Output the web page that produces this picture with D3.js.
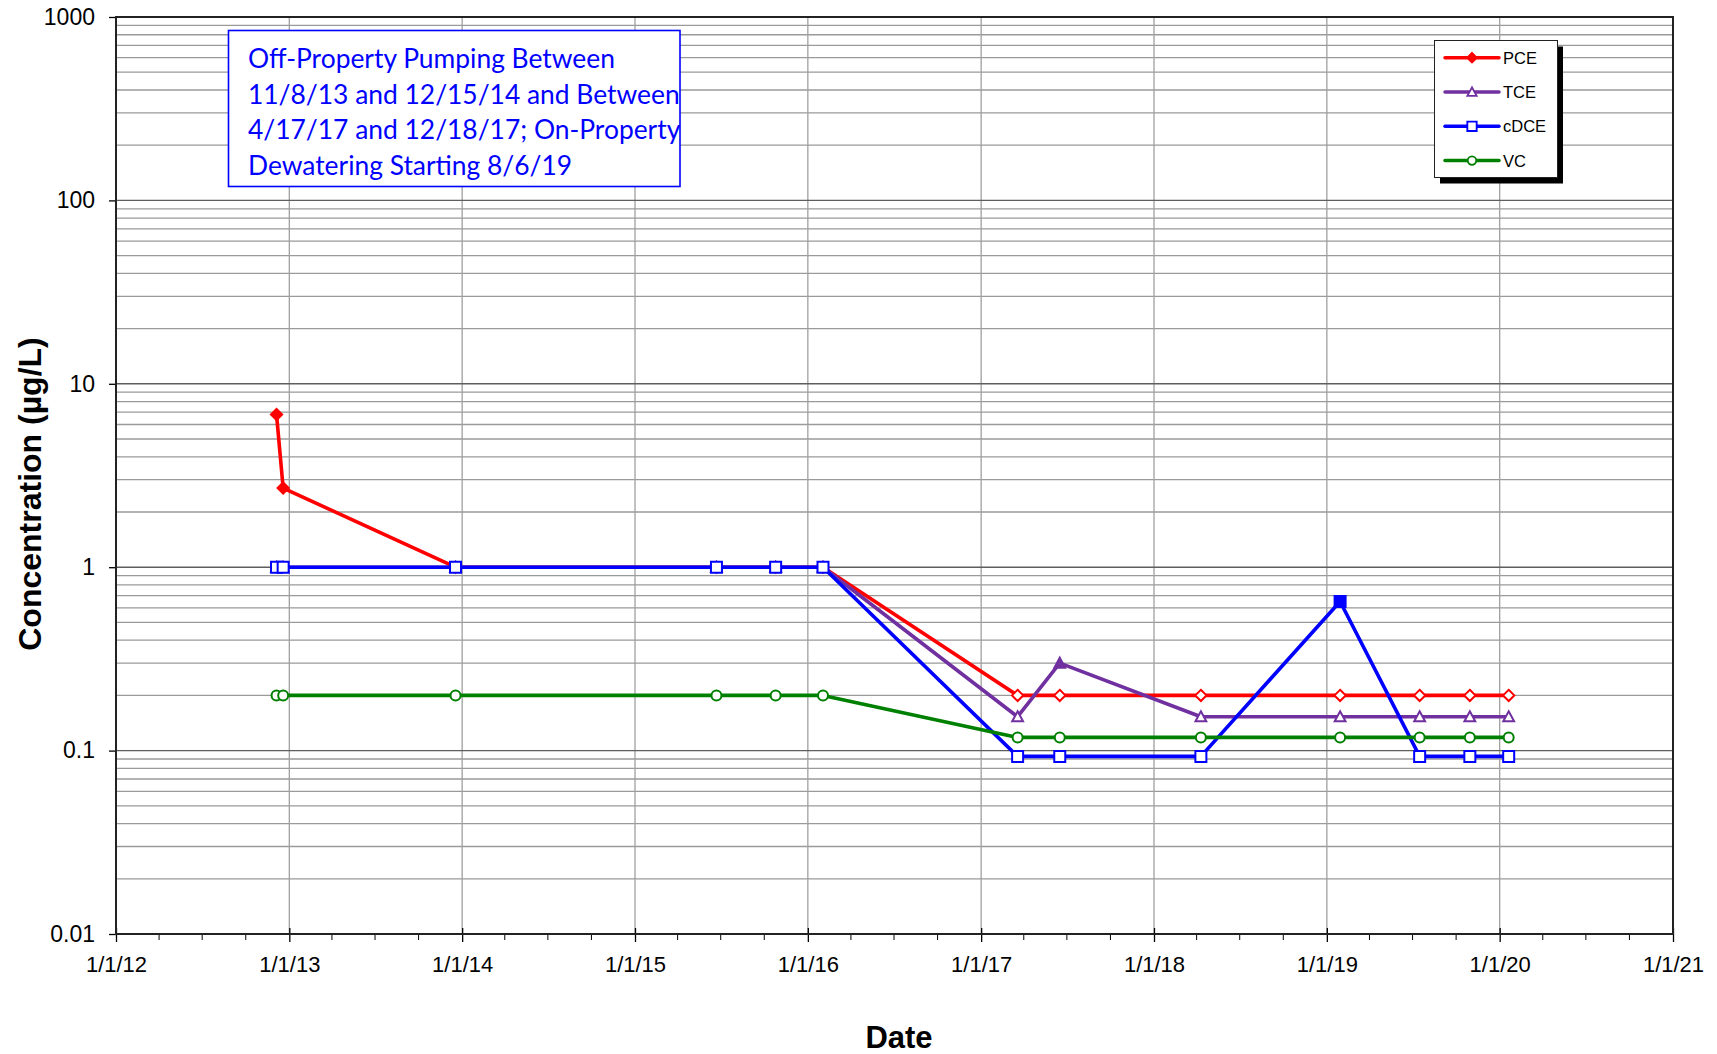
<!DOCTYPE html>
<html>
<head>
<meta charset="utf-8">
<script src="https://cdn.jsdelivr.net/npm/d3@7"></script>
<style>
  html, body { margin: 0; padding: 0; background: #fff; }
  svg { display: block; }
</style>
</head>
<body>
<svg id="chart" width="1717" height="1054"></svg>
<script>
// ---- Data ----
const sampleDates = ["2012-12-05","2012-12-19","2013-12-18","2015-06-22","2015-10-25","2016-02-02",
                     "2017-03-19","2017-06-16","2018-04-10","2019-01-29","2019-07-16","2019-10-30","2020-01-20"];
const pceValues  = [6.8, 2.7, 1, 1, 1, 1, 0.2, 0.2, 0.2, 0.2, 0.2, 0.2, 0.2];
const tceValues  = [1, 1, 1, 1, 1, 1, 0.153, 0.3, 0.153, 0.153, 0.153, 0.153, 0.153];
const cdceValues = [1, 1, 1, 1, 1, 1, 0.093, 0.093, 0.093, 0.65, 0.093, 0.093, 0.093];
const vcValues   = [0.2, 0.2, 0.2, 0.2, 0.2, 0.2, 0.118, 0.118, 0.118, 0.118, 0.118, 0.118, 0.118];
// detected (filled marker) flags
const pceDetected  = [1, 1, 0, 0, 0, 0, 0, 0, 0, 0, 0, 0, 0];
const tceDetected  = [0, 0, 0, 0, 0, 0, 0, 1, 0, 0, 0, 0, 0];
const cdceDetected = [0, 0, 0, 0, 0, 0, 0, 0, 0, 1, 0, 0, 0];
const vcDetected   = [0, 0, 0, 0, 0, 0, 0, 0, 0, 0, 0, 0, 0];

const seriesNames = ["PCE", "TCE", "cDCE", "VC"];
const seriesColors = ["#ff0000", "#7030a0", "#0000ff", "#008000"];
const seriesMarkers = ["diamond", "triangle", "square", "circle"];

const yTickValues = [0.01, 0.1, 1, 10, 100, 1000];
const yTickLabels = ["0.01", "0.1", "1", "10", "100", "1000"];
const xTickYears = [2012, 2013, 2014, 2015, 2016, 2017, 2018, 2019, 2020, 2021];
const xTickLabels = ["1/1/12","1/1/13","1/1/14","1/1/15","1/1/16","1/1/17","1/1/18","1/1/19","1/1/20","1/1/21"];

const noteLines = ["Off-Property Pumping Between",
                   "11/8/13 and 12/15/14 and Between",
                   "4/17/17 and 12/18/17; On-Property",
                   "Dewatering Starting 8/6/19"];

// ---- Layout ----
const L = 116, R = 1673, T = 17, B = 934;
const svg = d3.select("#chart");
const parse = d3.utcParse("%Y-%m-%d");

const x = d3.scaleUtc()
  .domain([Date.UTC(2012, 0, 1), Date.UTC(2021, 0, 1)])
  .range([L, R]);
const y = d3.scaleLog().domain([0.01, 1000]).range([B, T]);

// ---- Grid ----
const grid = svg.append("g");
const minorY = [];
for (let e = -2; e < 3; e++) {
  for (let m = 2; m <= 9; m++) minorY.push(m * Math.pow(10, e));
}
grid.selectAll("line.minorY").data(minorY).join("line")
  .attr("x1", L).attr("x2", R)
  .attr("y1", d => y(d)).attr("y2", d => y(d))
  .attr("stroke", "#9a9a9a").attr("stroke-width", 1.3);
grid.selectAll("line.vx").data(xTickYears.slice(1, -1)).join("line")
  .attr("x1", d => x(Date.UTC(d, 0, 1))).attr("x2", d => x(Date.UTC(d, 0, 1)))
  .attr("y1", T).attr("y2", B)
  .attr("stroke", "#a0a0a0").attr("stroke-width", 1.3);
grid.selectAll("line.majY").data(yTickValues.slice(1, -1)).join("line")
  .attr("x1", L).attr("x2", R)
  .attr("y1", d => y(d)).attr("y2", d => y(d))
  .attr("stroke", "#5e5e5e").attr("stroke-width", 1.4);

// ---- Axes ----
const yAxis = d3.axisLeft(y).tickValues(yTickValues)
  .tickFormat((d, i) => yTickLabels[i]).tickSize(7).tickPadding(14);
const gy = svg.append("g").attr("transform", `translate(${L},0)`).call(yAxis);
gy.select(".domain").remove();
gy.selectAll(".tick line").attr("stroke", "#000").attr("stroke-width", 1.3);
gy.selectAll(".tick text").attr("font-family", "Liberation Sans, Arial, sans-serif")
  .attr("font-size", 23).attr("fill", "#000");

const minorX = [];
for (let yr = 2012; yr < 2021; yr++) for (const mo of [3, 6, 9]) minorX.push(Date.UTC(yr, mo, 1));
svg.append("g").selectAll("line").data(minorX).join("line")
  .attr("x1", d => x(d)).attr("x2", d => x(d))
  .attr("y1", B).attr("y2", B + 6)
  .attr("stroke", "#000").attr("stroke-width", 1);

const xAxis = d3.axisBottom(x).tickValues(xTickYears.map(yr => Date.UTC(yr, 0, 1)))
  .tickFormat((d, i) => xTickLabels[i]).tickSizeInner(8).tickSizeOuter(0).tickPadding(14);
const gx = svg.append("g").attr("transform", `translate(0,${B})`).call(xAxis);
gx.select(".domain").remove();
gx.selectAll(".tick line").attr("stroke", "#000").attr("stroke-width", 1.3).attr("y1", -6);
gx.selectAll(".tick text").attr("font-family", "Liberation Sans, Arial, sans-serif")
  .attr("font-size", 22).attr("fill", "#000");

svg.append("rect").attr("x", L).attr("y", T).attr("width", R - L).attr("height", B - T)
  .attr("fill", "none").attr("stroke", "#222").attr("stroke-width", 2);

// ---- Axis titles ----
svg.append("text").attr("x", 899).attr("y", 1048).attr("text-anchor", "middle")
  .attr("font-family", "Liberation Sans, Arial, sans-serif").attr("font-weight", "bold")
  .attr("font-size", 31).text("Date");
svg.append("text").attr("transform", "translate(41,494) rotate(-90)").attr("text-anchor", "middle")
  .attr("font-family", "Liberation Sans, Arial, sans-serif").attr("font-weight", "bold")
  .attr("font-size", 32).text("Concentration (µg/L)");

// ---- Marker shapes ----
const shapes = {
  diamond: { draw(c) { const h = 5.6; c.moveTo(0, -h); c.lineTo(h, 0); c.lineTo(0, h); c.lineTo(-h, 0); c.closePath(); } },
  triangle: { draw(c) { const s = 5.4; c.moveTo(0, -s); c.lineTo(s, s * 0.85); c.lineTo(-s, s * 0.85); c.closePath(); } },
  square: { draw(c) { const s = 5.5; c.moveTo(-s, -s); c.lineTo(s, -s); c.lineTo(s, s); c.lineTo(-s, s); c.closePath(); } },
  circle: { draw(c) { const r = 5; c.moveTo(r, 0); c.arc(0, 0, r, 0, 2 * Math.PI); } }
};

// ---- Series ----
const allValues = [pceValues, tceValues, cdceValues, vcValues];
const allDetected = [pceDetected, tceDetected, cdceDetected, vcDetected];
const line = d3.line().x(d => x(d.date)).y(d => y(d.value));

seriesNames.forEach((name, si) => {
  const pts = sampleDates.map((ds, i) => ({ date: parse(ds), value: allValues[si][i], det: allDetected[si][i] }));
  const g = svg.append("g");
  g.append("path").datum(pts).attr("d", line)
    .attr("fill", "none").attr("stroke", seriesColors[si]).attr("stroke-width", 3.6)
    .attr("stroke-linejoin", "round");
  g.selectAll("path.m").data(pts).join("path")
    .attr("transform", d => `translate(${x(d.date)},${y(d.value)})`)
    .attr("d", d3.symbol().type(shapes[seriesMarkers[si]]))
    .attr("fill", d => d.det ? seriesColors[si] : "#fff")
    .attr("stroke", seriesColors[si]).attr("stroke-width", 2);
});

// ---- Note box ----
const note = svg.append("g");
note.append("rect").attr("x", 228.5).attr("y", 30.5).attr("width", 451.5).attr("height", 156)
  .attr("fill", "#fff").attr("stroke", "#0000ff").attr("stroke-width", 1.6);
note.selectAll("text").data(noteLines).join("text")
  .attr("x", 248).attr("y", (d, i) => 68 + i * 35.5)
  .attr("font-family", "Lato, 'Open Sans', sans-serif").attr("font-size", 26.4)
  .attr("fill", "#0000ff").text(d => d);

// ---- Legend ----
const lg = svg.append("g");
lg.append("rect").attr("x", 1440).attr("y", 46.5).attr("width", 123).attr("height", 137).attr("fill", "#000");
lg.append("rect").attr("x", 1434.5).attr("y", 40.5).attr("width", 123).attr("height", 137)
  .attr("fill", "#fff").attr("stroke", "#222").attr("stroke-width", 1);
seriesNames.forEach((name, si) => {
  const yy = 57.7 + si * 34.3;
  lg.append("line").attr("x1", 1445).attr("x2", 1499).attr("y1", yy).attr("y2", yy)
    .attr("stroke", seriesColors[si]).attr("stroke-width", 3.5).attr("stroke-linecap", "round");
  lg.append("path").attr("transform", `translate(1472,${yy}) scale(0.85)`)
    .attr("d", d3.symbol().type(shapes[seriesMarkers[si]]))
    .attr("fill", si === 0 ? seriesColors[si] : "#fff")
    .attr("stroke", seriesColors[si]).attr("stroke-width", 2.2);
  lg.append("text").attr("x", 1503).attr("y", yy).attr("dy", "0.36em")
    .attr("font-family", "Liberation Sans, Arial, sans-serif").attr("font-size", 16.5)
    .attr("fill", "#000").text(name);
});
</script>
</body>
</html>
